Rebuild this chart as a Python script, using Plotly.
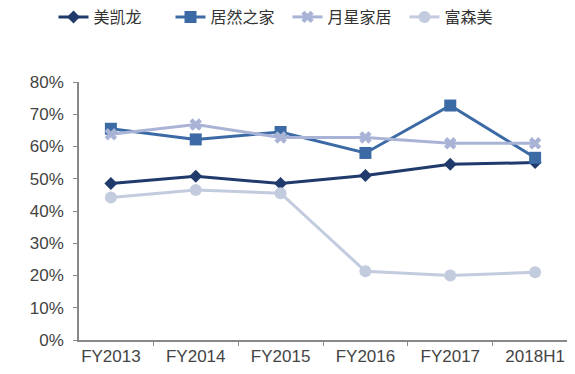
import plotly.graph_objects as go

categories = ["FY2013", "FY2014", "FY2015", "FY2016", "FY2017", "2018H1"]
meikailong = [0.485, 0.508, 0.485, 0.51, 0.545, 0.55]
juran = [0.655, 0.622, 0.645, 0.58, 0.727, 0.565]
yuexing = [0.638, 0.668, 0.628, 0.628, 0.61, 0.61]
fusenmei = [0.442, 0.465, 0.455, 0.213, 0.20, 0.21]

series = [
    ("美凯龙", meikailong, "#1F3A6B", "diamond", 10),
    ("居然之家", juran, "#3C6AA5", "square", 12),
    ("月星家居", yuexing, "#A9B3D5", "x", 11),
    ("富森美", fusenmei, "#C3CBDF", "circle", 12),
]

fig = go.Figure()
for name, vals, color, sym, size in series:
    fig.add_trace(go.Scatter(
        x=categories, y=vals, name=name, mode="lines+markers",
        line=dict(color=color, width=3),
        marker=dict(symbol=sym, size=size, color=color),
    ))

fig.update_layout(
    width=575, height=374,
    margin=dict(l=79, r=8, t=82, b=32),
    paper_bgcolor="white", plot_bgcolor="white",
    font=dict(family="Liberation Sans, Arial, sans-serif", size=17, color="#444444"),
    legend=dict(
        orientation="h", x=0.5, xanchor="center", y=1.0, yanchor="top",
        yref="container", xref="container",
        font=dict(family="Noto Sans CJK SC", size=16, color="#333333"),
        entrywidth=72, entrywidthmode="pixels",
    ),
    showlegend=True,
)
fig.update_xaxes(
    showline=True, linecolor="#888888", linewidth=1.5,
    ticks="outside", tickson="boundaries", ticklen=4, tickcolor="#888888",
    showgrid=False, tickfont=dict(size=17),
)
fig.update_yaxes(
    range=[0, 0.8], dtick=0.1, tickformat=".0%",
    showline=True, linecolor="#888888", linewidth=1.5,
    ticks="outside", ticklen=4, tickcolor="#888888",
    showgrid=False, zeroline=False, tickfont=dict(size=17),
    ticklabelstandoff=6,
)

fig.write_html("out.html")
